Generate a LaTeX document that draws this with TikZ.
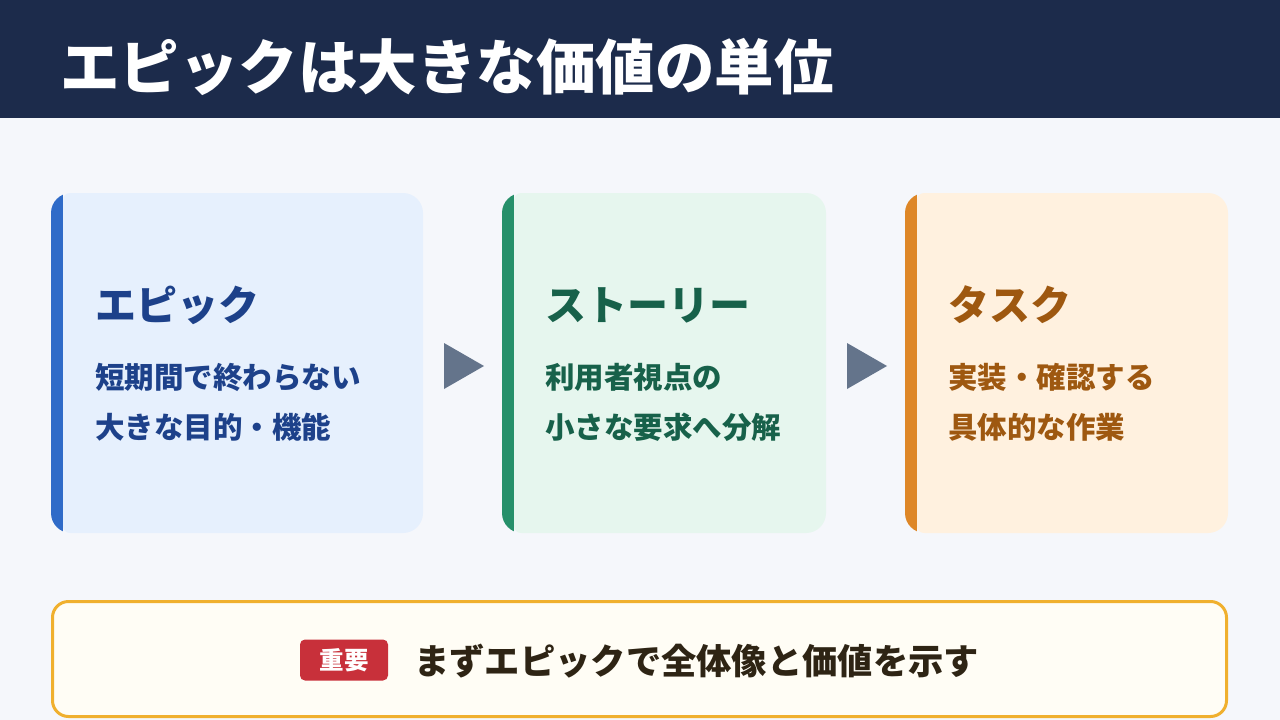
\documentclass[tikz,border=0pt]{standalone}
\usepackage{fontspec}
\setmainfont{Noto Sans CJK JP}
\definecolor{pagebg}{HTML}{F5F7FB}
\definecolor{headbg}{HTML}{1C2B4B}
\definecolor{epicbar}{HTML}{2F6BC8}
\definecolor{epicbg}{HTML}{E6F0FD}
\definecolor{epictext}{HTML}{1D418A}
\definecolor{storybar}{HTML}{26906A}
\definecolor{storybg}{HTML}{E6F6EE}
\definecolor{storytext}{HTML}{17614A}
\definecolor{taskbar}{HTML}{DE8727}
\definecolor{taskbg}{HTML}{FFF1DF}
\definecolor{tasktext}{HTML}{9E5810}
\definecolor{arrowtri}{HTML}{64748B}
\definecolor{notebar}{HTML}{F0B02E}
\definecolor{notebg}{HTML}{FFFDF5}
\definecolor{badgered}{HTML}{C8303A}
\definecolor{notetext}{HTML}{2E2414}
\tikzset{
  headtext/.style={anchor=west, inner sep=0pt, font=\fontsize{41}{45}\selectfont\bfseries},
  bodytext/.style={anchor=west, inner sep=0pt, align=left, font=\fontsize{29.5}{50}\selectfont\bfseries},
}
\begin{document}
\begin{tikzpicture}[x=1pt,y=-1pt]
			\useasboundingbox (0,0) rectangle (1280,720);
			\fill[pagebg] (0,0) rectangle (1280,720);
			\fill[headbg] (0,0) rectangle (1280,118);
			\node[anchor=west, inner sep=0pt, white, font=\fontsize{59.5}{62}\selectfont\bfseries] (title) at (60,67) {エピックは大きな価値の単位};
			
			% epic card
			\begin{scope}
				\clip[rounded corners=20] (51,193) rectangle (423,533);
				\fill[epicbar] (51,193) rectangle (63,533);
				\fill[epicbg, rounded corners=7] (63,193) rectangle (440,533);
			\end{scope}
			\node[headtext, epictext] (epic head) at (95,305) {エピック};
			\node[bodytext, epictext] (epic body) at (95,402) {短期間で終わらない\\大きな目的・機能};
			
			\fill[arrowtri] (444,343) -- (484,366) -- (444,389) -- cycle;
			
			% story card
			\begin{scope}
				\clip[rounded corners=20] (502,193) rectangle (826,533);
				\fill[storybar] (502,193) rectangle (514,533);
				\fill[storybg, rounded corners=7] (514,193) rectangle (840,533);
			\end{scope}
			\node[headtext, storytext] (story head) at (545,305) {ストーリー};
			\node[bodytext, storytext] (story body) at (545,402) {利用者視点の\\小さな要求へ分解};
			
			\fill[arrowtri] (847,343) -- (887,366) -- (847,389) -- cycle;
			
			% task card
			\begin{scope}
				\clip[rounded corners=20] (905,193) rectangle (1228,533);
				\fill[taskbar] (905,193) rectangle (917,533);
				\fill[taskbg, rounded corners=7] (917,193) rectangle (1240,533);
			\end{scope}
			\node[headtext, tasktext] (task head) at (948,305) {タスク};
			\node[bodytext, tasktext] (task body) at (948,402) {実装・確認する\\具体的な作業};
			
			% note
			\filldraw[fill=notebg, draw=notebar, line width=3, rounded corners=16] (52.5,601.5) rectangle (1226.5,716.5);
			\node[fill=badgered, rounded corners=5, text=white, inner sep=0pt, minimum width=88, minimum height=41, font=\fontsize{24.5}{26}\selectfont\bfseries] (badge) at (344,660) {重要};
			\node[anchor=west, inner sep=0pt, notetext, font=\fontsize{35.3}{38}\selectfont\bfseries] (note) at (414,661) {まずエピックで全体像と価値を示す};
\end{tikzpicture}
\end{document}
